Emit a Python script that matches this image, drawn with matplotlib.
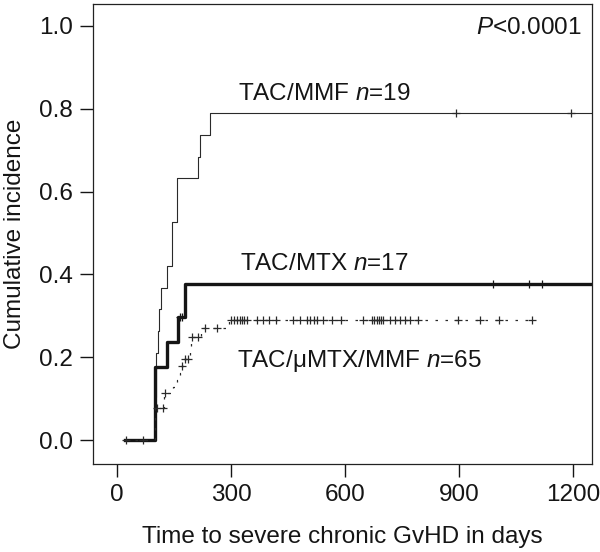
import numpy as np
import matplotlib
matplotlib.use("Agg")
import matplotlib.pyplot as plt

plt.rcParams['font.family'] = ['Liberation Sans', 'DejaVu Sans']
plt.rcParams['mathtext.fontset'] = 'custom'
plt.rcParams['mathtext.it'] = 'Liberation Sans:italic'
plt.rcParams['mathtext.rm'] = 'Liberation Sans'

# TAC/MMF, n=19
mmf_times = [20, 100, 102, 104, 107, 110, 115, 131, 144, 146, 159, 214, 218, 245, 1260]
mmf_inc = [0, 0.105, 0.158, 0.211, 0.263, 0.316, 0.368, 0.421, 0.474, 0.526, 0.632, 0.684, 0.737, 0.789, 0.789]
mmf_cens = [892, 1195]

# TAC/MTX, n=17
mtx_times = [20, 100, 131, 161, 179, 1260]
mtx_inc = [0, 0.177, 0.237, 0.298, 0.378, 0.378]
mtx_cens = [166, 172, 990, 1085, 1118]

# TAC/uMTX/MMF, n=65
umtx_times = [20, 100, 125, 148, 157, 165, 168, 176, 191, 195, 220, 295, 1091]
umtx_inc = [0, 0.077, 0.113, 0.129, 0.145, 0.162, 0.179, 0.195, 0.213, 0.25, 0.27, 0.29, 0.29]
umtx_cens = [24, 68, 105, 121, 126, 170, 178, 188, 197, 212, 232, 262, 299, 308, 317, 324,
             329, 334, 343, 368, 383, 401, 418, 464, 482, 501, 508, 517, 527, 543, 565, 589,
             648, 670, 676, 683, 688, 694, 701, 718, 732, 745, 758, 771, 793, 898, 955, 1004, 1091]

xticks = [0, 300, 600, 900, 1200]
yticks = [0.0, 0.2, 0.4, 0.6, 0.8, 1.0]


def level_at(times, inc, t):
    idx = np.searchsorted(times, t, side='right') - 1
    return np.array(inc)[idx]


fig = plt.figure(figsize=(6, 5.52), dpi=100)
ax = fig.add_axes([0.155, 0.159, 0.832, 0.834])

ax.step(mmf_times, mmf_inc, where='post', color='#2a2a2a', lw=0.8)
ax.plot(mmf_cens, level_at(mmf_times, mmf_inc, mmf_cens), '+', color='#2a2a2a', ms=6, mew=0.9)

ax.step(mtx_times, mtx_inc, where='post', color='#151515', lw=2.4)
ax.plot(mtx_cens, level_at(mtx_times, mtx_inc, mtx_cens), '+', color='#151515', ms=6, mew=0.9)

ax.step(umtx_times, umtx_inc, where='post', color='#2a2a2a', lw=0.9, linestyle=(0, (2, 6)))
ax.plot(umtx_cens, level_at(umtx_times, umtx_inc, umtx_cens), '+', color='#2a2a2a', ms=6, mew=0.9)

fs = 17.5
ax.text(318, 0.836, 'TAC/MMF $n$=19', fontsize=fs, va='center', ha='left', color='#151515')
ax.text(324, 0.425, 'TAC/MTX $n$=17', fontsize=fs, va='center', ha='left', color='#151515')
ax.text(316, 0.19, 'TAC/\u03bcMTX/MMF $n$=65', fontsize=fs, va='center', ha='left', color='#151515')
ax.text(1221, 0.995, '$P$<0.0001', fontsize=fs, va='center', ha='right', color='#151515')

ax.set_xlim(-63, 1250)
ax.set_ylim(-0.058, 1.053)
ax.set_xticks(xticks)
ax.set_xticklabels([str(x) for x in xticks])
ax.set_yticks(yticks)
ax.set_yticklabels(['%.1f' % y for y in yticks])
ax.tick_params(direction='out', length=9.5, width=1, labelsize=fs, colors='#151515', pad=5)
for s in ax.spines.values():
    s.set_linewidth(0.9)
    s.set_color('#222222')

ax.set_xlabel('Time to severe chronic GvHD in days', fontsize=fs, labelpad=14, color='#151515')
ax.set_ylabel('Cumulative incidence', fontsize=fs, labelpad=9, color='#151515')

fig.savefig('out.png', dpi=100)
